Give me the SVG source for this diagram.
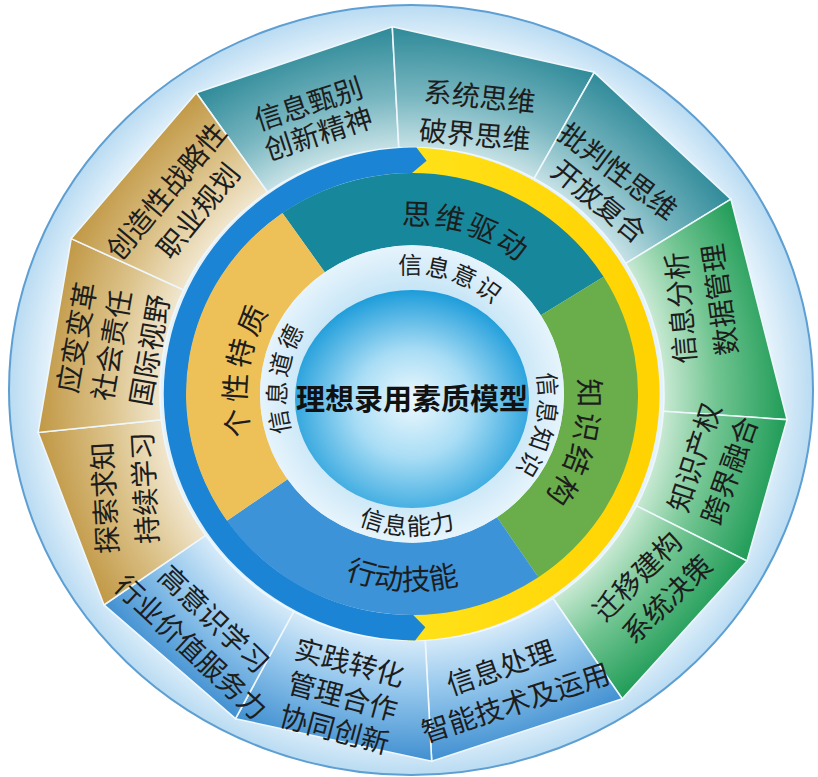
<svg xmlns="http://www.w3.org/2000/svg" width="818" height="777" viewBox="0 0 818 777">
<defs>
<style>
.seg{font-family:"Noto Sans CJK SC","Noto Sans",sans-serif;font-size:28px;fill:#1d1d1d;text-anchor:middle;dominant-baseline:central;}
.ring{font-family:"Noto Sans CJK SC","Noto Sans",sans-serif;font-size:29px;fill:#1d1d1d;text-anchor:middle;}
.pale{font-family:"Noto Sans CJK SC","Noto Sans",sans-serif;font-size:24px;fill:#1d1d1d;text-anchor:middle;}
.title{font-family:"Noto Sans CJK SC","Noto Sans",sans-serif;font-size:29px;font-weight:bold;fill:#111;text-anchor:middle;dominant-baseline:central;}
.sep{stroke:#eef7fc;stroke-width:1.6;}
</style>
<radialGradient id="gTeal" cx="0" cy="0" r="380" gradientUnits="userSpaceOnUse">
<stop offset="0.64" stop-color="#d3e9ec"/><stop offset="0.8" stop-color="#78b6c0"/><stop offset="1" stop-color="#2a8796"/></radialGradient>
<radialGradient id="gGreen" cx="0" cy="0" r="380" gradientUnits="userSpaceOnUse">
<stop offset="0.64" stop-color="#d6efdd"/><stop offset="0.8" stop-color="#72c592"/><stop offset="1" stop-color="#1a9953"/></radialGradient>
<radialGradient id="gBlue" cx="0" cy="0" r="380" gradientUnits="userSpaceOnUse">
<stop offset="0.64" stop-color="#e0f0fb"/><stop offset="0.8" stop-color="#93c6ec"/><stop offset="1" stop-color="#3b8ccf"/></radialGradient>
<radialGradient id="gTan" cx="0" cy="0" r="380" gradientUnits="userSpaceOnUse">
<stop offset="0.64" stop-color="#f4ecd9"/><stop offset="0.8" stop-color="#dcc38b"/><stop offset="1" stop-color="#bf9540"/></radialGradient>
<radialGradient id="gRim" cx="0.5" cy="0.5" r="0.5">
<stop offset="0.9" stop-color="#e4f2fb"/><stop offset="1" stop-color="#b9dbf2"/></radialGradient>
<radialGradient id="gPale" cx="0" cy="0" r="152" gradientUnits="userSpaceOnUse">
<stop offset="0.7" stop-color="#c6e5f6"/><stop offset="1" stop-color="#e6f4fc"/></radialGradient>
<radialGradient id="gSphere" cx="0.5" cy="0.55" r="0.55" fx="0.5" fy="0.5">
<stop offset="0" stop-color="#eef9fe"/><stop offset="0.45" stop-color="#a9ddf5"/><stop offset="1" stop-color="#1c9cda"/></radialGradient>
<linearGradient id="gYellow" x1="0" y1="0" x2="1" y2="0">
<stop offset="0" stop-color="#ffe21a"/><stop offset="1" stop-color="#ffd200"/></linearGradient>
<path id="tpYiShi" d="M 330.4 305.3 A 122 122 0 0 1 531.3 370.6"/>
<path id="tpZhiShi" d="M 498.6 303.1 A 127 127 0 0 1 449.1 517.5"/>
<path id="tpNengLi" d="M 289.3 461.3 A 139 139 0 0 0 529.9 469.7"/>
<path id="tpDaoDe" d="M 334.4 495.3 A 126 126 0 0 1 364.8 279.2"/>
<path id="tpSiWei" d="M 297.6 268.9 A 171 171 0 0 1 579.3 360.4"/>
<path id="tpJieGou" d="M 532.1 280 A 167 167 0 0 1 452.4 558"/>
<path id="tpXingDong" d="M 239.1 484.1 A 194 194 0 0 0 574.7 501.7"/>
<path id="tpGeXing" d="M 307.5 525 A 166 166 0 0 1 352.5 241"/>
</defs>
<rect width="818" height="777" fill="#ffffff"/>
<g id="rim">
<ellipse cx="411" cy="390" rx="402" ry="385" fill="url(#gRim)" stroke="#5d9fd2" stroke-width="2"/>
</g>
<g transform="translate(412,394) scale(1,0.978)">
<g id="seg-xinxizhenbie"><path class="sep" fill="url(#gTeal)" d="M -144.5 -206.4 A 252 252 0 0 1 -13.2 -251.7 L -19.7 -375.5 L -215.7 -308.0 Z"/></g>
<g id="seg-xitongsiwei"><path class="sep" fill="url(#gTeal)" d="M -13.2 -251.7 A 252 252 0 0 1 122.2 -220.4 L 182.3 -328.9 L -19.7 -375.5 Z"/></g>
<g id="seg-pipanxing"><path class="sep" fill="url(#gTeal)" d="M 122.2 -220.4 A 252 252 0 0 1 213.7 -133.5 L 318.9 -199.2 L 182.3 -328.9 Z"/></g>
<g id="seg-xinxifenxi"><path class="sep" fill="url(#gGreen)" d="M 213.7 -133.5 A 252 252 0 0 1 251.4 17.6 L 375.1 26.2 L 318.9 -199.2 Z"/></g>
<g id="seg-zhishichanquan"><path class="sep" fill="url(#gGreen)" d="M 251.4 17.6 A 252 252 0 0 1 224.5 114.4 L 335.0 170.7 L 375.1 26.2 Z"/></g>
<g id="seg-qianyijiangou"><path class="sep" fill="url(#gGreen)" d="M 224.5 114.4 A 252 252 0 0 1 140.9 208.9 L 210.3 311.7 L 335.0 170.7 Z"/></g>
<g id="seg-xinxichuli"><path class="sep" fill="url(#gBlue)" d="M 140.9 208.9 A 252 252 0 0 1 13.2 251.7 L 19.7 375.5 L 210.3 311.7 Z"/></g>
<g id="seg-shijianzhuanhua"><path class="sep" fill="url(#gBlue)" d="M 13.2 251.7 A 252 252 0 0 1 -118.3 222.5 L -176.5 332.0 L 19.7 375.5 Z"/></g>
<g id="seg-gaoyishi"><path class="sep" fill="url(#gBlue)" d="M -118.3 222.5 A 252 252 0 0 1 -206.4 144.5 L -308.0 215.7 L -176.5 332.0 Z"/></g>
<g id="seg-tansuoqiuzhi"><path class="sep" fill="url(#gTan)" d="M -206.4 144.5 A 252 252 0 0 1 -250.6 26.3 L -373.9 39.3 L -308.0 215.7 Z"/></g>
<g id="seg-yingbianbiange"><path class="sep" fill="url(#gTan)" d="M -250.6 26.3 A 252 252 0 0 1 -228.4 -106.5 L -340.8 -158.9 L -373.9 39.3 Z"/></g>
<g id="seg-chuangzaoxing"><path class="sep" fill="url(#gTan)" d="M -228.4 -106.5 A 252 252 0 0 1 -144.5 -206.4 L -215.7 -308.0 L -340.8 -158.9 Z"/></g>
<g id="arrow-ring">
<path fill="url(#gYellow)" d="M -4.4 -252 A 252 252 0 1 1 -4.4 252 L -3.9 226 A 226 226 0 1 0 -3.9 -226 Z"/>
<path fill="#1b84d4" d="M 13.3 238.6 L 3.1 252 A 252 252 0 1 1 4.4 -252 L 14.6 -238.5 L 0 -226 A 226 226 0 1 0 1.2 226 Z"/>
</g>
<g id="ring-siweiqudong"><path fill="#17879b" d="M -129.6 -185.1 A 226 226 0 0 1 191.6 -119.8 L 128.9 -80.5 A 152 152 0 0 0 -87.2 -124.5 Z"/></g>
<g id="ring-zhishijiegou"><path fill="#69ae4b" d="M 191.6 -119.8 A 226 226 0 0 1 126.4 187.4 L 85.0 126.0 A 152 152 0 0 0 128.9 -80.5 Z"/></g>
<g id="ring-xingdongjineng"><path fill="#3c93d7" d="M 126.4 187.4 A 226 226 0 0 1 -185.1 129.6 L -124.5 87.2 A 152 152 0 0 0 85.0 126.0 Z"/></g>
<g id="ring-gexingtezhi"><path fill="#eec158" d="M -185.1 129.6 A 226 226 0 0 1 -129.6 -185.1 L -87.2 -124.5 A 152 152 0 0 0 -124.5 87.2 Z"/></g>
<g id="pale-ring"><circle r="152" fill="url(#gPale)"/></g>
</g>
<g id="center">
<ellipse cx="412" cy="399" rx="117" ry="109" fill="url(#gSphere)"/>
<text class="title" x="412" y="397">理想录用素质模型</text>
</g>
<g id="pale-labels">
<text class="pale" letter-spacing="2"><textPath href="#tpYiShi" startOffset="50%">信息意识</textPath></text>
<text class="pale" letter-spacing="2"><textPath href="#tpZhiShi" startOffset="50%">信息知识</textPath></text>
<text class="pale" letter-spacing="1"><textPath href="#tpNengLi" startOffset="50%">信息能力</textPath></text>
<text class="pale" letter-spacing="3"><textPath href="#tpDaoDe" startOffset="50%">信息道德</textPath></text>
</g>
<g id="ring-labels">
<text class="ring" letter-spacing="3"><textPath href="#tpSiWei" startOffset="50%">思维驱动</textPath></text>
<text class="ring" letter-spacing="3"><textPath href="#tpJieGou" startOffset="50%">知识结构</textPath></text>
<text class="ring"><textPath href="#tpXingDong" startOffset="50%">行动技能</textPath></text>
<text class="ring" letter-spacing="4"><textPath href="#tpGeXing" startOffset="50%">个性特质</textPath></text>
</g>
<g id="segment-labels">
<text class="seg" transform="translate(308,102) rotate(-18)">信息甄别</text>
<text class="seg" transform="translate(318,132) rotate(-18)">创新精神</text>
<text class="seg" transform="translate(480,95) rotate(6)">系统思维</text>
<text class="seg" transform="translate(475,133) rotate(5)">破界思维</text>
<text class="seg" transform="translate(619,170) rotate(37)">批判性思维</text>
<text class="seg" transform="translate(600,200) rotate(39)">开放复合</text>
<text class="seg" transform="translate(679,308) rotate(-95)">信息分析</text>
<text class="seg" transform="translate(718,300) rotate(-98)">数据管理</text>
<text class="seg" transform="translate(693,457) rotate(-72)">知识产权</text>
<text class="seg" transform="translate(728,470) rotate(-70)">跨界融合</text>
<text class="seg" transform="translate(636,575) rotate(-45)">迁移建构</text>
<text class="seg" transform="translate(666,598) rotate(-44)">系统决策</text>
<text class="seg" transform="translate(500,666) rotate(-19)">信息处理</text>
<text class="seg" transform="translate(515,701) rotate(-18)">智能技术及运用</text>
<text class="seg" transform="translate(350,661) rotate(15)">实践转化</text>
<text class="seg" transform="translate(343,695) rotate(15)">管理合作</text>
<text class="seg" transform="translate(335,728) rotate(15)">协同创新</text>
<text class="seg" transform="translate(215,618) rotate(44)">高意识学习</text>
<text class="seg" transform="translate(192,646) rotate(43)">行业价值服务力</text>
<text class="seg" transform="translate(103,498) rotate(-93)">探索求知</text>
<text class="seg" transform="translate(143,488) rotate(-93)">持续学习</text>
<text class="seg" transform="translate(75,337) rotate(-80)">应变变革</text>
<text class="seg" transform="translate(110,345) rotate(-80)">社会责任</text>
<text class="seg" transform="translate(148,350) rotate(-80)">国际视野</text>
<text class="seg" transform="translate(165,190) rotate(-50)">创造性战略性</text>
<text class="seg" transform="translate(197,210) rotate(-51)">职业规划</text>
</g>
</svg>
